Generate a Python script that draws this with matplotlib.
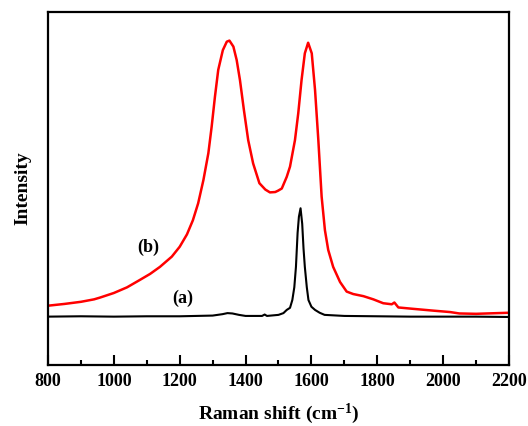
import numpy as np
import matplotlib.pyplot as plt
from matplotlib.ticker import MultipleLocator

plt.rcParams['font.family'] = ['Liberation Serif', 'DejaVu Serif']
plt.rcParams['font.weight'] = 'bold'
plt.rcParams['mathtext.fontset'] = 'custom'
plt.rcParams['mathtext.rm'] = 'Liberation Serif:bold'
plt.rcParams['mathtext.bf'] = 'Liberation Serif:bold'
plt.rcParams['mathtext.default'] = 'bf'

# Спектр (b) - красная кривая
shift_b = [800, 850, 900, 940, 958, 1000, 1040, 1079, 1110, 1140, 1176, 1200,
           1222, 1240, 1256, 1272, 1287, 1297, 1307, 1317, 1331, 1343, 1351,
           1363, 1373, 1383, 1395, 1408, 1423, 1442, 1460, 1474, 1490, 1499,
           1510, 1525, 1535, 1550, 1560, 1570, 1580, 1590, 1601, 1611, 1621,
           1631, 1641, 1651, 1666, 1687, 1707, 1727, 1758, 1788, 1818, 1844,
           1852, 1864, 1910, 1970, 2021, 2049, 2100, 2200]
int_b = [168, 173, 179, 186, 191, 204, 220, 241, 258, 278, 307, 335,
         370, 410, 458, 524, 600, 675, 760, 836, 892, 916, 919,
         902, 864, 807, 722, 637, 571, 515, 497, 489, 490, 494,
         500, 533, 562, 637, 713, 807, 883, 913, 883, 779, 637,
         477, 382, 326, 278, 235, 208, 201, 195, 186, 175, 172,
         177, 163, 159, 154, 150, 146, 145, 148]

# Спектр (a) - черная кривая
shift_a = [800, 900, 1000, 1100, 1200, 1300, 1330, 1345, 1360, 1380, 1400,
           1450, 1458, 1465, 1500, 1515, 1525, 1535, 1542, 1548, 1553, 1558,
           1562, 1567, 1572, 1576, 1580, 1586, 1591, 1600, 1611, 1625, 1640,
           1700, 1800, 1900, 2000, 2100, 2200]
int_a = [137, 138, 137, 138, 138, 140, 144, 147, 146, 142, 139,
         139, 143, 139, 142, 147, 156, 162, 184, 220, 278, 374,
         420, 444, 400, 330, 278, 220, 184, 165, 156, 148, 142,
         139, 138, 137, 137, 137, 136]

fig = plt.figure(figsize=(5.28, 4.26), dpi=100)
ax = fig.add_axes([0.0909, 0.1432, 0.8731, 0.8286])

ax.plot(shift_b, int_b, color="red", lw=1.8)
ax.plot(shift_a, int_a, color="black", lw=1.5)

ax.text(1104, 334, "(b)", fontsize=13, fontweight="bold", ha="center", va="center")
ax.text(1210, 190, "(a)", fontsize=13, fontweight="bold", ha="center", va="center")

ax.set_xlim(800, 2200)
ax.set_ylim(0, 1000)
ax.xaxis.set_major_locator(MultipleLocator(200))
ax.xaxis.set_minor_locator(MultipleLocator(100))
ax.set_yticks([])
ax.tick_params(axis="x", which="major", direction="in", length=7, width=1.5,
               labelsize=13, pad=6)
ax.tick_params(axis="x", which="minor", direction="in", length=3.5, width=1.5)
for s in ax.spines.values():
    s.set_linewidth(1.6)

ax.set_xlabel("Raman shift (cm$^{-1}$)", fontsize=14, fontweight="bold", labelpad=8)
ax.set_ylabel("Intensity", fontsize=14, fontweight="bold", labelpad=12)

plt.savefig("out.png", dpi=100)
